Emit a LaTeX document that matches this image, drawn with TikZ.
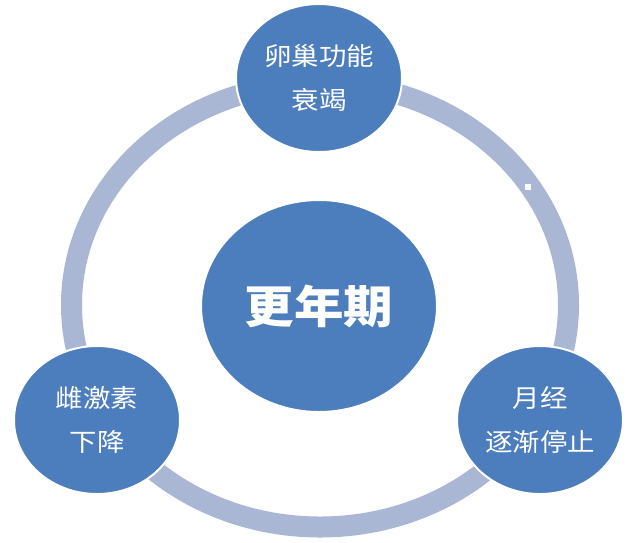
\documentclass[tikz,border=0pt]{standalone}
\usepackage{fontspec}
\usepackage{graphicx}
\newfontfamily\cjk{Noto Sans CJK SC}
\usetikzlibrary{shapes.geometric}
\definecolor{nodeblue}{HTML}{4C7DBD}
\definecolor{ringgray}{HTML}{A9B7D5}
\newcommand{\wide}[1]{\scalebox{1.1}[1]{#1}}
\begin{document}
\begin{tikzpicture}[x=1pt,y=-1pt,
  bubble/.style={ellipse, fill=nodeblue, draw=white, line width=2pt, inner sep=0pt,
    minimum width=166pt, minimum height=148pt, text=white, align=center,
    font=\cjk\fontsize{25}{44}\selectfont},
  hub/.style={bubble, minimum width=236pt, minimum height=212pt,
    font=\cjk\bfseries\fontsize{45}{50}\selectfont},
  ringline/.style={draw=ringgray, line width=21pt}]
\useasboundingbox (0,0) rectangle (636,542);
\fill[white] (0,0) rectangle (636,542);
\coordinate (o) at (320,305);
\draw[ringline] (o) ellipse [x radius=248.5pt, y radius=222pt];
\fill[white] (525,184) rectangle (531,190);
\node[hub] (c) at (319,306) {\wide{更年期}};
\node[bubble] (t) at (319,78) {\wide{卵巢功能}\\\wide{衰竭}};
\node[bubble] (l) at (97,420) {\wide{雌激素}\\\wide{下降}};
\node[bubble] (r) at (540,420) {\wide{月经}\\\wide{逐渐停止}};
\end{tikzpicture}
\end{document}
